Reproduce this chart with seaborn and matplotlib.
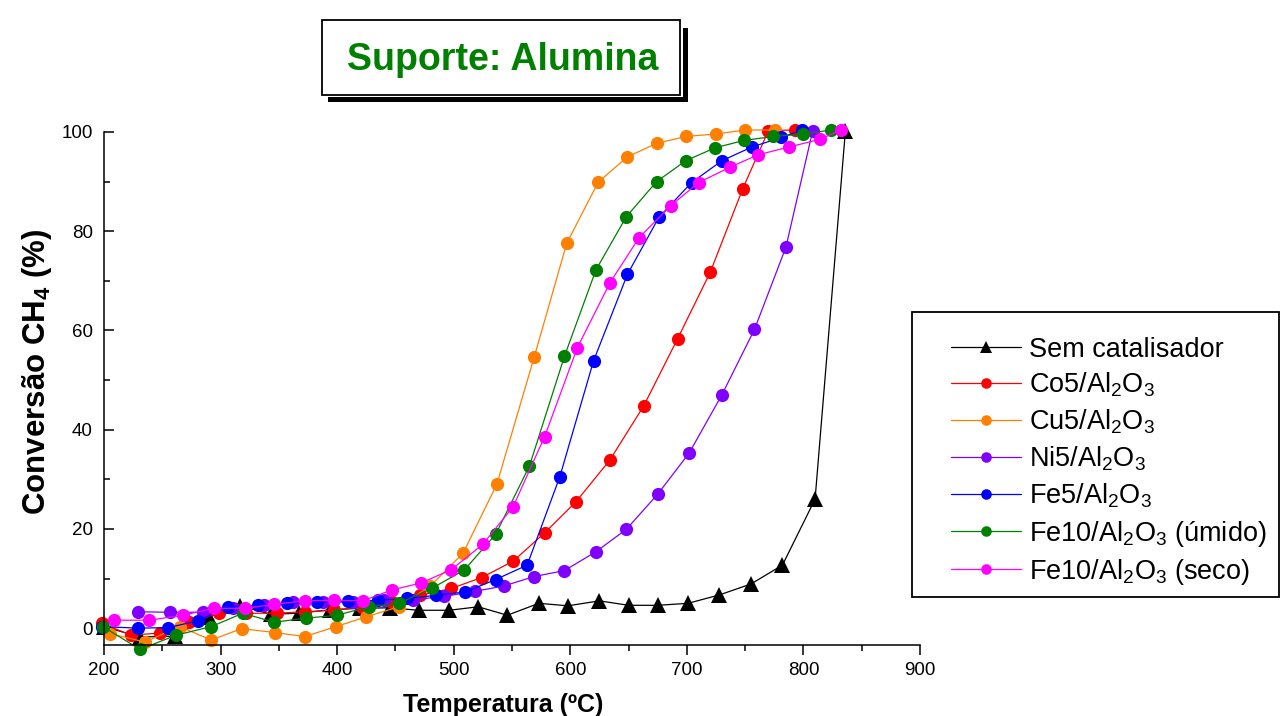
import seaborn as sns
import matplotlib.pyplot as plt
from matplotlib.patches import Rectangle
from matplotlib.ticker import MultipleLocator

sns.set_style('ticks')
plt.rcParams['font.family'] = ['Liberation Sans', 'DejaVu Sans']
plt.rcParams['mathtext.fontset'] = 'custom'
plt.rcParams['mathtext.rm'] = 'Liberation Sans'
plt.rcParams['mathtext.it'] = 'Liberation Sans:italic'
plt.rcParams['mathtext.bf'] = 'Liberation Sans:bold'
plt.rcParams['mathtext.default'] = 'regular'
for k in ['text.color', 'axes.labelcolor', 'xtick.color', 'ytick.color']:
    plt.rcParams[k] = 'black'

# data (temperature in C, conversion in %)
sem_t = [200, 231, 261, 290, 317, 343, 367, 394, 420, 445, 470, 496, 521, 546, 573, 598, 625, 650, 675, 701, 728, 755, 782, 810, 836]
sem_c = [0.3, -1.8, -1.6, 2.3, 4.5, 2.8, 3.0, 3.7, 4.0, 4.1, 3.6, 3.6, 4.3, 2.6, 5.0, 4.5, 5.5, 4.6, 4.6, 5.0, 6.7, 8.9, 12.7, 26.0, 100.2]

co5_t = [198, 223, 248, 273, 299, 322, 348, 372, 397, 421, 447, 471, 498, 524, 551, 578, 605, 634, 663, 692, 720, 748, 770, 793]
co5_c = [1.0, -1.4, -1.0, 1.3, 3.0, 3.0, 3.0, 3.3, 3.6, 4.3, 5.3, 6.6, 8.0, 10.2, 13.5, 19.2, 25.5, 33.9, 44.8, 58.3, 71.7, 88.6, 100.3, 100.4]

cu5_t = [205, 235, 265, 292, 318, 347, 372, 399, 425, 453, 480, 508, 537, 569, 597, 624, 649, 674, 699, 725, 750, 776]
cu5_c = [-1.1, -2.8, 0.3, -2.4, -0.1, -0.9, -1.7, 0.3, 2.3, 4.3, 8.5, 15.1, 29.0, 54.6, 77.6, 89.9, 95.0, 97.7, 99.1, 99.6, 100.4, 100.4]

ni5_t = [229, 257, 285, 311, 337, 362, 388, 414, 440, 465, 492, 518, 543, 569, 595, 622, 648, 675, 702, 730, 758, 785, 808]
ni5_c = [3.3, 3.2, 3.2, 4.0, 4.6, 5.2, 5.2, 5.3, 5.6, 5.7, 6.4, 7.4, 8.5, 10.4, 11.6, 15.4, 19.9, 27.0, 35.3, 47.0, 60.2, 76.8, 100.3]

fe5_t = [198, 229, 255, 281, 306, 332, 357, 383, 409, 435, 460, 485, 510, 536, 563, 591, 620, 649, 676, 704, 730, 756, 781, 799]
fe5_c = [0.3, 0.0, 0.1, 1.5, 4.3, 4.6, 5.0, 5.2, 5.4, 5.6, 6.0, 6.6, 7.3, 9.8, 12.7, 30.5, 53.9, 71.3, 82.8, 89.8, 94.2, 97.0, 98.9, 100.4]

fe10u_t = [199, 231, 262, 292, 319, 346, 373, 400, 427, 453, 481, 509, 536, 565, 595, 622, 648, 674, 699, 724, 749, 774, 800, 824]
fe10u_c = [0.3, -4.3, -1.4, 0.3, 3.0, 1.2, 2.0, 2.6, 4.3, 5.0, 8.0, 11.7, 18.9, 32.7, 54.8, 72.2, 82.9, 90.0, 94.2, 96.8, 98.3, 99.1, 99.6, 100.4]

fe10s_t = [209, 239, 268, 294, 321, 346, 372, 397, 422, 447, 472, 498, 525, 551, 578, 606, 634, 659, 686, 710, 737, 761, 788, 814, 832]
fe10s_c = [1.6, 1.6, 2.6, 4.0, 4.0, 4.8, 5.5, 5.6, 5.5, 7.7, 9.1, 11.8, 16.9, 24.5, 38.6, 56.5, 69.6, 78.7, 85.1, 89.8, 92.9, 95.4, 97.0, 98.5, 100.4]

series = [
    ('Sem catalisador', sem_t, sem_c, 'black', '^'),
    ('Co5/Al$_2$O$_3$', co5_t, co5_c, '#ff0000', 'o'),
    ('Cu5/Al$_2$O$_3$', cu5_t, cu5_c, '#ff8000', 'o'),
    ('Ni5/Al$_2$O$_3$', ni5_t, ni5_c, '#8000ff', 'o'),
    ('Fe5/Al$_2$O$_3$', fe5_t, fe5_c, '#0000ff', 'o'),
    ('Fe10/Al$_2$O$_3$ (úmido)', fe10u_t, fe10u_c, '#008000', 'o'),
    ('Fe10/Al$_2$O$_3$ (seco)', fe10s_t, fe10s_c, '#ff00ff', 'o'),
]

W, H = 1281, 716
fig = plt.figure(figsize=(W / 100, H / 100), dpi=100)


def px(x0, y0, x1, y1):
    # pixel box (top-left origin) -> figure fraction rect
    return (x0 / W, 1 - y1 / H), (x1 - x0) / W, (y1 - y0) / H


ax = fig.add_axes([104 / W, 1 - 645 / H, 816 / W, 513 / H])
ax.patch.set_alpha(0)

for lab, t, c, col, mk in series:
    sns.lineplot(x=t, y=c, ax=ax, color=col, marker=mk,
                 markersize=11 if mk == '^' else 9.5, markeredgewidth=0,
                 linewidth=0.9, label=lab, sort=False, errorbar=None,
                 clip_on=False)

ax.set_xlim(200, 900)
ax.set_ylim(-3.4, 100)
ax.xaxis.set_major_locator(MultipleLocator(100))
ax.xaxis.set_minor_locator(MultipleLocator(50))
ax.yaxis.set_major_locator(MultipleLocator(20))
ax.yaxis.set_minor_locator(MultipleLocator(10))
ax.tick_params(axis='x', which='major', direction='out', length=7, width=1.1,
               labelsize=13.5, pad=5)
ax.tick_params(axis='x', which='minor', direction='out', length=4, width=1.1)
ax.tick_params(axis='y', which='major', direction='in', length=7, width=1.1,
               labelsize=13.5, pad=8)
ax.tick_params(axis='y', which='minor', direction='in', length=4, width=1.1)
sns.despine(ax=ax)
for s in ['left', 'bottom']:
    ax.spines[s].set_linewidth(1.1)
    ax.spines[s].set_color('black')

ax.set_xlabel('Temperatura (ºC)', fontsize=18, fontweight='bold', va='center')
ax.set_ylabel(r'Conversão CH$_{\mathbf{4}}$ (%)', fontsize=22.5, fontweight='bold',
              va='center')
ax.xaxis.set_label_coords(0.489, -0.117)
ax.yaxis.set_label_coords(-0.082, 0.533)

# legend with its own frame (behind the legend)
xy, w, h = px(912, 312, 1279, 597)
fig.add_artist(Rectangle(xy, w, h, transform=fig.transFigure, facecolor='white',
                         edgecolor='black', linewidth=1.3, zorder=-1))
handles, labels = ax.get_legend_handles_labels()
leg = ax.legend(handles, labels, loc='upper left',
                bbox_to_anchor=(937 / W, 1 - 323 / H),
                bbox_transform=fig.transFigure, frameon=False, fontsize=19.5,
                handlelength=2.6, handletextpad=0.3, labelspacing=0.31,
                borderpad=0, markerscale=0.8)

# title box with shadow
xy, w, h = px(328, 28, 688, 102)
fig.add_artist(Rectangle(xy, w, h, transform=fig.transFigure, facecolor='black',
                         edgecolor='none'))
xy, w, h = px(319, 17, 683, 97)
fig.add_artist(Rectangle(xy, w, h, transform=fig.transFigure, facecolor='white',
                         edgecolor='none'))
xy, w, h = px(322, 20, 680, 95)
fig.add_artist(Rectangle(xy, w, h, transform=fig.transFigure, facecolor='white',
                         edgecolor='black', linewidth=1.3))
fig.text(503 / W, 1 - 60 / H, 'Suporte: Alumina', color='#008000', fontsize=27,
         fontweight='bold', ha='center', va='center')

fig.savefig('out.png', dpi=100)
